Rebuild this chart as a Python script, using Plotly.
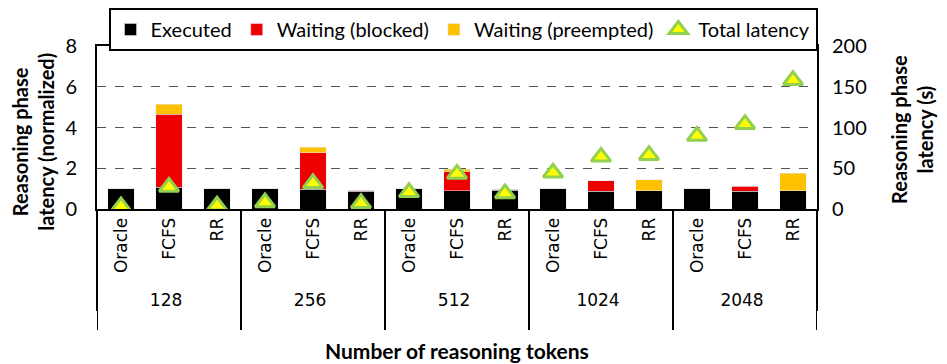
import plotly.graph_objects as go

tokens = ["128", "256", "512", "1024", "2048"]
schedulers = ["Oracle", "FCFS", "RR"]

executed = [1.0, 1.07, 0.99, 1.0, 0.98, 0.88, 1.0, 0.90, 0.91, 0.99, 0.86, 0.90, 1.0, 0.86, 0.90]
blocked = [0.0, 3.58, 0.03, 0.0, 1.77, 0.05, 0.0, 0.92, 0.05, 0.0, 0.52, 0.0, 0.0, 0.26, 0.0]
preempted = [0.0, 0.49, 0.0, 0.0, 0.29, 0.0, 0.0, 0.12, 0.0, 0.0, 0.0, 0.53, 0.0, 0.03, 0.86]
total_latency = [3, 27, 4, 8, 31.5, 7, 20.5, 43, 19, 44.5, 64, 66, 89.5, 104, 158]

x_outer = [t for t in tokens for s in schedulers]
x_inner = [s for t in tokens for s in schedulers]
x = [x_outer, x_inner]

fig = go.Figure()
fig.add_trace(go.Bar(x=x, y=executed, name="Executed", marker_color="black", width=0.56))
fig.add_trace(go.Bar(x=x, y=blocked, name="Waiting (blocked)", marker_color="#EE0000", width=0.56))
fig.add_trace(go.Bar(x=x, y=preempted, name="Waiting (preempted)", marker_color="#FFC000", width=0.56))
fig.add_trace(go.Scatter(x=x, y=total_latency, name="Total latency", mode="markers", yaxis="y2",
                         marker=dict(symbol="triangle-up", size=17, color="#FFFF00",
                                     line=dict(color="#92D050", width=3))))

# stretch the group dividers further down, like the original
n = len(schedulers)
for i in range(len(tokens) + 1):
    fig.add_shape(type="line", xref="x", yref="paper", x0=i * n - 0.5, x1=i * n - 0.5,
                  y0=-0.57, y1=-0.742, line=dict(color="black", width=2))

title_font = dict(family="Lato", size=20, color="black")

fig.update_layout(
    barmode="stack",
    width=947, height=364,
    margin=dict(l=89, r=138, t=38, b=163, autoexpand=False),
    plot_bgcolor="white", paper_bgcolor="white",
    font=dict(family="Lato", size=17, color="black"),
    legend=dict(orientation="h", x=0.4805, xref="container", xanchor="center",
                y=1.0, yref="container", yanchor="top",
                bordercolor="black", borderwidth=2, font=dict(size=20, family="Lato"),
                traceorder="normal", tracegroupgap=0),
    xaxis=dict(type="multicategory", range=[-0.5, 14.5], showline=True, linecolor="black",
               linewidth=2, mirror=True, tickangle=-90,
               tickfont=dict(family="DejaVu Sans", size=17), automargin=False,
               showdividers=True, dividercolor="black", dividerwidth=2),
    yaxis=dict(range=[0, 8], dtick=2, showline=True, linecolor="black", linewidth=2, mirror=True,
               showgrid=True, gridcolor="#555555", griddash="dash", gridwidth=1, zeroline=False,
               tickfont=dict(family="Lato", size=20), automargin=False, ticklabelstandoff=14),
    yaxis2=dict(range=[0, 200], dtick=50, overlaying="y", side="right", showgrid=False,
                zeroline=False, tickfont=dict(family="Lato", size=20), automargin=False,
                ticklabelstandoff=14),
    annotations=[
        dict(text="<b>Reasoning phase<br>latency (normalized)</b>", xref="paper", yref="paper",
             x=-0.088, y=0.41, xanchor="center", yanchor="middle", textangle=-90,
             showarrow=False, font=title_font),
        dict(text="<b>Reasoning phase<br>latency (s)</b>", xref="paper", yref="paper",
             x=1.132, y=0.485, xanchor="center", yanchor="middle", textangle=-90,
             showarrow=False, font=title_font),
        dict(text="<b>Number of reasoning tokens</b>", xref="paper", yref="paper",
             x=0.5, y=-0.871, xanchor="center", yanchor="middle", showarrow=False,
             font=dict(family="Lato", size=21, color="black")),
    ],
)

fig.write_html("out.html")
